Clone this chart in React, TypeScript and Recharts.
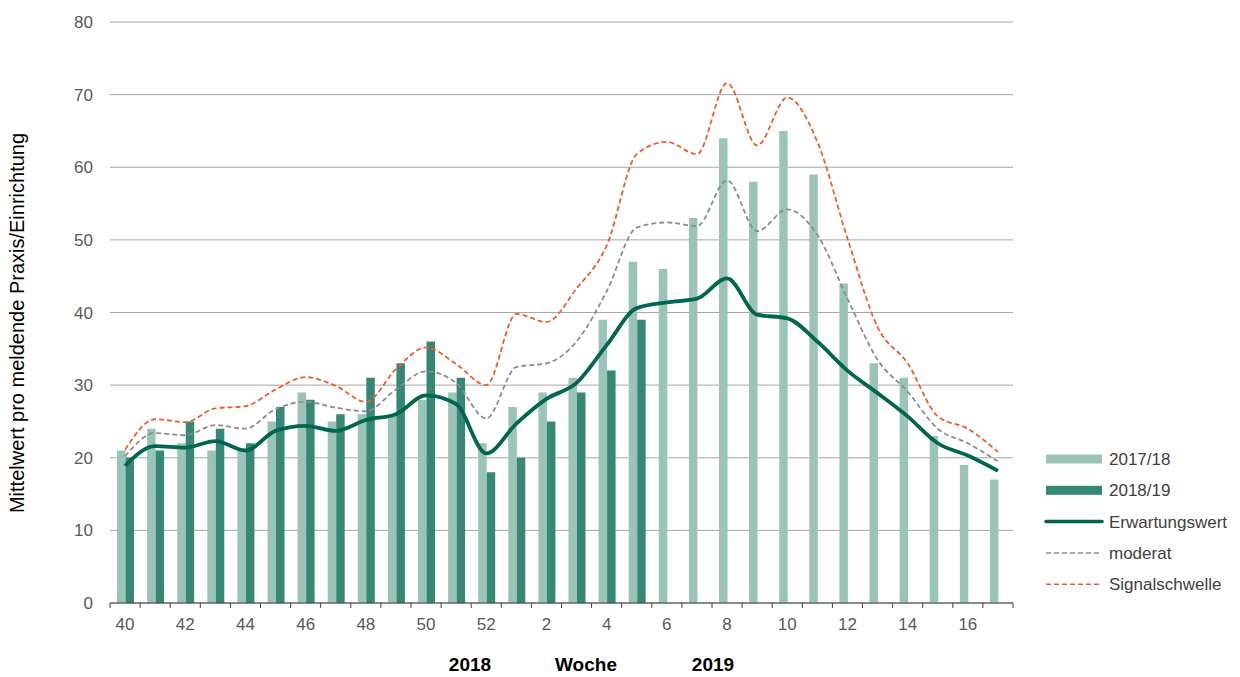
import React from "react";
import { ComposedChart, Bar, Line, XAxis, YAxis, CartesianGrid, Legend } from "recharts";

// Kalenderwochen 40/2018 bis 17/2019
const weeks = [
  "40", "41", "42", "43", "44", "45", "46", "47", "48", "49", "50", "51", "52",
  "1", "2", "3", "4", "5", "6", "7", "8", "9", "10", "11", "12", "13", "14", "15", "16", "17",
];

const season1718 = [21, 24, 22, 21, 21, 25, 29, 25, 26, 26, 28, 29, 22, 27, 29, 31, 39, 47, 46, 53, 64, 58, 65, 59, 44, 33, 31, 23, 19, 17];
const season1819 = [20, 21, 25, 24, 22, 27, 28, 26, 31, 33, 36, 31, 18, 20, 25, 29, 32, 39];

const erwartungswert = [18.9, 21.6, 21.4, 22.3, 21.0, 23.7, 24.4, 23.7, 25.2, 26.0, 28.6, 27.4, 20.6, 24.7, 28.1, 30.3, 35.5, 40.6, 41.4, 41.9, 44.7, 39.7, 39.2, 36.0, 32.0, 28.9, 25.7, 22.0, 20.3, 18.2];
const moderat = [20.2, 23.4, 23.1, 24.5, 24.0, 26.7, 27.7, 26.9, 26.4, 29.4, 31.9, 30.3, 25.4, 32.5, 33.0, 36.0, 42.9, 51.7, 52.4, 51.9, 58.2, 51.2, 54.2, 50.7, 41.9, 33.5, 29.1, 24.0, 22.0, 19.5];
const signalschwelle = [21.1, 25.3, 24.9, 26.8, 27.1, 29.4, 31.1, 29.9, 27.7, 32.2, 35.2, 32.9, 30.0, 39.8, 38.7, 43.3, 49.2, 61.8, 63.5, 61.8, 71.6, 63.0, 69.6, 63.5, 50.2, 38.0, 33.0, 25.7, 24.0, 20.8];

const yTicks = [0, 10, 20, 30, 40, 50, 60, 70, 80];

const data = weeks.map((week, i) => ({
  week,
  s1718: season1718[i],
  s1819: season1819[i] ?? null,
  erw: erwartungswert[i],
  mod: moderat[i],
  sig: signalschwelle[i],
}));

const LIGHT = "#9bc4b9";
const DARK = "#358873";
const LINE = "#00664e";
const GREY = "#8c8c8c";
const ORANGE = "#f05a28";

const WIDTH = 1240;
const HEIGHT = 677;
const PLOT_LEFT = 110;
const PLOT_RIGHT = 1013;
const band = (PLOT_RIGHT - PLOT_LEFT) / weeks.length;

const legendItems = [
  { name: "2017/18", kind: "bar", color: LIGHT },
  { name: "2018/19", kind: "bar", color: DARK },
  { name: "Erwartungswert", kind: "line", color: LINE },
  { name: "moderat", kind: "dash", color: GREY },
  { name: "Signalschwelle", kind: "dash", color: ORANGE },
];

// Excel-Stil: Striche zwischen den Kategorien, Beschriftung jede zweite Woche
function WeekTick(props: any) {
  const { x, y, payload, index } = props;
  const left = x - band / 2;
  return (
    <g>
      <line x1={left} y1={y} x2={left} y2={y + 5} stroke="#404040" />
      {index === weeks.length - 1 && (
        <line x1={x + band / 2} y1={y} x2={x + band / 2} y2={y + 5} stroke="#404040" />
      )}
      {index % 2 === 0 && (
        <text x={x} y={y + 15} dy="0.71em" textAnchor="middle" fill="#595959" fontSize={17}>
          {payload.value}
        </text>
      )}
    </g>
  );
}

function YTitle() {
  return (
    <text x={24} y={323} transform="rotate(-90 24 323)" textAnchor="middle" fill="#000" fontSize={20}>
      Mittelwert pro meldende Praxis/Einrichtung
    </text>
  );
}

function XTitle() {
  return (
    <g fill="#000" fontSize={19} fontWeight="bold" textAnchor="middle">
      <text x={470} y={671}>2018</text>
      <text x={586} y={671}>Woche</text>
      <text x={713} y={671}>2019</text>
    </g>
  );
}

function LegendBox() {
  return (
    <svg width={200} height={165}>
      {legendItems.map((item, i) => {
        const cy = 19 + i * 31.3;
        return (
          <g key={item.name}>
            {item.kind === "bar" && <rect x={6} y={cy - 4.5} width={56} height={9} fill={item.color} />}
            {item.kind === "line" && (
              <line x1={6} y1={cy} x2={62} y2={cy} stroke={item.color} strokeWidth={3.5} strokeLinecap="round" />
            )}
            {item.kind === "dash" && (
              <line x1={6} y1={cy} x2={62} y2={cy} stroke={item.color} strokeWidth={1.5} strokeDasharray="5 3" />
            )}
            <text x={69} y={cy + 6} fill="#404040" fontSize={17}>
              {item.name}
            </text>
          </g>
        );
      })}
    </svg>
  );
}

export default function App() {
  return (
    <div style={{ position: "absolute", left: 0, top: 0, width: WIDTH, height: HEIGHT, background: "#fff", fontFamily: "'Liberation Sans', Arial, sans-serif" }}>
      <ComposedChart
        width={WIDTH}
        height={HEIGHT}
        data={data}
        margin={{ top: 22, right: WIDTH - PLOT_RIGHT, bottom: 0, left: 0 }}
        barGap={0}
        barSize={8.5}
      >
        <CartesianGrid vertical={false} stroke="#a6a6a6" />
        <XAxis
          dataKey="week"
          height={HEIGHT - 603}
          interval={0}
          axisLine={{ stroke: "#404040" }}
          tickLine={false}
          tickSize={0}
          tickMargin={0}
          tick={<WeekTick />}
          label={<XTitle />}
        />
        <YAxis
          width={PLOT_LEFT}
          domain={[0, 80]}
          ticks={yTicks}
          axisLine={false}
          tickLine={false}
          tickSize={0}
          tickMargin={17}
          tick={{ fill: "#595959", fontSize: 17 }}
          label={<YTitle />}
        />
        <Legend
          layout="vertical"
          align="center"
          verticalAlign="middle"
          wrapperStyle={{ left: 1040, top: 440, width: 200, height: 165 }}
          content={() => <LegendBox />}
        />
        <Bar dataKey="s1718" name="2017/18" fill={LIGHT} isAnimationActive={false} />
        <Bar dataKey="s1819" name="2018/19" fill={DARK} isAnimationActive={false} />
        <Line type="monotone" dataKey="sig" name="Signalschwelle" stroke={ORANGE} strokeWidth={1.8} strokeDasharray="5 3" dot={false} isAnimationActive={false} />
        <Line type="monotone" dataKey="mod" name="moderat" stroke={GREY} strokeWidth={1.8} strokeDasharray="5 3" dot={false} isAnimationActive={false} />
        <Line type="monotone" dataKey="erw" name="Erwartungswert" stroke={LINE} strokeWidth={3.8} dot={false} isAnimationActive={false} />
      </ComposedChart>
    </div>
  );
}
